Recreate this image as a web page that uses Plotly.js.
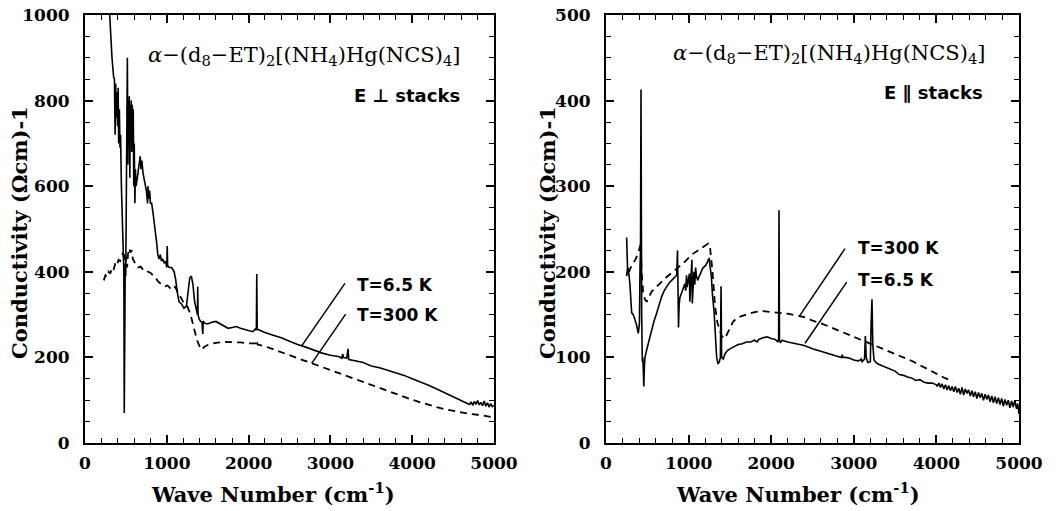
<!DOCTYPE html>
<html>
<head>
<meta charset="utf-8">
<script src="https://cdn.plot.ly/plotly-3.0.1.min.js"></script>
<style>html,body{margin:0;padding:0;background:#fff;}#chart{width:1059px;height:511px;}</style>
</head>
<body>
<div id="chart"></div>
<script>
// ---------- Left panel: E perpendicular to stacks ----------
const perpWave65 = [280,300,330,350,360,368,375,383,390,398,405,412,420,428,435,445,460,468,475,480,486,492,498,505,512,518,524,530,536,542,548,554,560,566,572,578,584,590,596,602,610,616,625,640,660,675,685,695,710,730,750,765,770,780,790,800,815,830,845,860,875,890,905,920,935,950,970,985,1000,1005,1010,1030,1060,1090,1110,1130,1150,1180,1210,1240,1260,1280,1300,1320,1340,1360,1375,1378,1382,1395,1410,1430,1440,1445,1460,1500,1550,1600,1650,1700,1750,1800,1850,1900,1950,2000,2050,2080,2095,2100,2105,2130,2200,2300,2400,2500,2600,2700,2800,2900,3000,3100,3140,3150,3160,3200,3215,3225,3300,3400,3500,3600,3700,3800,3900,4000,4100,4200,4300,4400,4500,4600,4650,4700,4720,4740,4760,4780,4800,4820,4840,4860,4880,4900,4920,4940,4960,4980,5000];
const perpCond65 = [1080,1000,900,855,850,720,840,760,820,740,830,700,780,690,720,600,470,430,400,70,380,420,390,600,780,900,650,800,700,810,620,790,720,800,680,790,700,780,600,700,560,640,600,620,650,670,640,660,630,610,590,560,600,570,590,560,560,540,520,490,470,440,430,440,425,430,420,425,410,460,415,410,410,400,380,350,330,325,315,320,360,385,390,370,330,310,300,365,300,290,285,282,255,285,280,278,282,284,278,272,268,270,272,268,265,262,260,266,264,395,266,264,258,252,246,238,230,224,217,210,205,202,198,208,200,198,220,195,192,188,180,176,170,164,158,150,143,135,126,117,108,100,94,90,96,88,97,90,99,89,95,87,98,86,94,84,92,85,88];

const perpWave300 = [230,250,270,290,310,330,350,370,390,410,430,450,465,475,485,495,505,515,525,540,555,570,585,600,620,650,680,710,740,770,800,830,860,890,920,950,980,1010,1040,1070,1100,1130,1160,1200,1250,1290,1330,1370,1410,1430,1460,1500,1550,1600,1700,1800,1900,2000,2060,2090,2100,2110,2200,2300,2400,2500,2600,2700,2800,2900,3000,3100,3200,3300,3400,3500,3600,3700,3800,3900,4000,4100,4200,4300,4400,4500,4600,4700,4800,4900,5000];
const perpCond300 = [380,392,388,400,396,410,405,420,415,428,425,440,445,430,440,420,435,410,440,455,445,450,430,425,415,410,412,405,406,400,398,392,388,378,372,368,366,368,362,358,365,355,345,330,320,300,270,240,222,218,225,229,232,234,236,236,235,233,232,233,240,230,226,219,212,205,198,191,184,177,170,163,156,149,142,135,128,121,114,108,101,95,89,84,79,75,71,68,66,63,60];

// ---------- Right panel: E parallel to stacks ----------
const parWave65 = [250,262,270,280,290,311,330,351,370,391,405,412,418,424,428,432,440,446,452,458,465,472,493,520,553,580,614,645,674,705,735,765,795,830,856,866,872,878,885,895,910,925,940,955,965,975,982,990,1000,1010,1015,1020,1030,1040,1045,1055,1065,1075,1085,1095,1110,1130,1150,1170,1190,1210,1230,1250,1262,1275,1290,1300,1310,1325,1340,1355,1370,1385,1393,1400,1420,1440,1470,1500,1550,1600,1650,1700,1750,1800,1830,1850,1900,1950,2000,2050,2080,2090,2095,2100,2110,2130,2200,2300,2400,2500,2600,2700,2800,2850,2860,2870,2900,2950,3000,3050,3080,3090,3100,3130,3140,3150,3170,3200,3210,3220,3230,3245,3270,3300,3350,3400,3450,3500,3550,3600,3650,3700,3750,3800,3850,3900,3950,4000,4010,4030,4050,4070,4090,4110,4130,4150,4170,4190,4210,4230,4250,4270,4290,4310,4330,4350,4370,4390,4410,4430,4450,4470,4490,4510,4530,4550,4570,4590,4610,4630,4650,4670,4690,4710,4730,4750,4770,4790,4810,4830,4850,4870,4890,4910,4930,4950,4970,4985,5000];
const parCond65 = [240,200,205,195,185,152,150,144,138,128,140,205,225,413,230,152,95,100,85,66,90,100,109,120,132,142,152,162,171,178,183,187,190,194,196,225,198,135,160,170,174,178,182,186,178,196,182,188,192,198,165,175,190,214,163,185,200,185,205,195,190,195,200,204,206,208,212,216,205,195,172,165,152,125,100,93,94,100,183,100,98,104,108,110,113,115,116,118,118,120,118,121,123,124,122,121,118,122,272,120,117,120,118,116,114,110,107,104,101,100,103,100,100,99,97,96,97,98,95,98,125,100,94,95,140,168,115,97,94,92,90,88,86,84,80,79,77,76,73,74,71,70,70,68,66,70,65,69,63,68,62,67,61,66,60,66,59,64,57,65,56,63,58,62,55,61,54,60,52,59,53,58,50,57,51,56,48,55,47,54,46,53,45,52,43,51,44,50,41,49,42,50,40,46,34];

const parWave300 = [250,265,280,300,330,360,390,410,420,432,450,472,493,553,634,735,835,936,1037,1138,1238,1259,1290,1320,1350,1400,1440,1480,1540,1600,1700,1800,1900,2000,2100,2200,2300,2400,2500,2600,2700,2800,2900,3000,3100,3200,3300,3400,3500,3600,3700,3800,3900,4000,4100,4200];
const parCond300 = [195,205,200,205,210,215,222,230,232,200,175,168,165,177,185,194,202,210,220,227,233,229,200,160,140,125,122,130,142,147,150,153,154,153,152,151,149,147,143,140,136,132,128,124,120,116,112,108,104,100,96,91,86,81,76,72];

// tick steps (major / minor) for each axis
const waveMax = 5000, waveMajor = 1000, waveMinor = 200;
const perpMax = 1000, perpMajor = 200, perpMinor = 50;
const parMax = 500, parMajor = 100, parMinor = 25;

const formulaText = '<i>α</i>−(d<sub>8</sub>−ET)<sub>2</sub>[(NH<sub>4</sub>)Hg(NCS)<sub>4</sub>]';
const xTitleText = 'Wave Number (cm<sup>-1</sup>)';
const yTitleText = 'Conductivity (Ωcm)-1';

const solidLine = {color:'#000', width:1.6};
const dashLine = {color:'#000', width:1.8, dash:'7px,5px'};

const traces = [
  {x: perpWave65, y: perpCond65, xaxis:'x', yaxis:'y', mode:'lines', line: solidLine, name:'T=6.5 K', showlegend:false},
  {x: perpWave300, y: perpCond300, xaxis:'x', yaxis:'y', mode:'lines', line: dashLine, name:'T=300 K', showlegend:false},
  {x: parWave65, y: parCond65, xaxis:'x2', yaxis:'y2', mode:'lines', line: solidLine, name:'T=6.5 K', showlegend:false},
  {x: parWave300, y: parCond300, xaxis:'x2', yaxis:'y2', mode:'lines', line: dashLine, name:'T=300 K', showlegend:false}
];

const tickFont = {family:'DejaVu Serif', size:17, color:'#000', weight:'bold'};
const titleFont = {family:'DejaVu Serif', size:21, color:'#000', weight:'bold'};

function xAxis(domain, anchor){
  return {
    domain: domain, anchor: anchor, range:[0, waveMax], tickmode:'linear', tick0:0, dtick: waveMajor,
    ticks:'inside', ticklen:8, tickwidth:1.6, tickcolor:'#000',
    minor:{tickmode:'linear', tick0:0, dtick: waveMinor, ticks:'inside', ticklen:5, tickwidth:1.3, tickcolor:'#000'},
    showline:true, linewidth:2, linecolor:'#000', mirror:'allticks',
    showgrid:false, zeroline:false, tickfont: tickFont, ticklabelstandoff:4
  };
}
function yAxis(maxV, major, minorStep, anchor){
  return {
    domain:[0,1], anchor: anchor, range:[0, maxV], tickmode:'linear', tick0:0, dtick: major,
    ticks:'inside', ticklen:8, tickwidth:1.6, tickcolor:'#000',
    minor:{tickmode:'linear', tick0:0, dtick: minorStep, ticks:'inside', ticklen:5, tickwidth:1.3, tickcolor:'#000'},
    showline:true, linewidth:2, linecolor:'#000', mirror:'allticks',
    showgrid:false, zeroline:false, tickfont: tickFont, ticklabelstandoff:10
  };
}

const labelFont = {family:'DejaVu Sans', size:17, color:'#000', weight:'bold'};
const stackFont = {family:'DejaVu Sans', size:18, color:'#000', weight:'bold'};
const formulaFont = {family:'DejaVu Serif', size:21, color:'#000'};

const pointerLine = {color:'#000', width:1.5};

const layout = {
  width:1059, height:511,
  margin:{l:85, r:40, t:15, b:68},
  paper_bgcolor:'#fff', plot_bgcolor:'#fff',
  showlegend:false,
  xaxis: xAxis([0, 0.4379], 'y'),
  yaxis: yAxis(perpMax, perpMajor, perpMinor, 'x'),
  xaxis2: xAxis([0.5578, 1], 'y2'),
  yaxis2: yAxis(parMax, parMajor, parMinor, 'x2'),
  annotations:[
    {xref:'paper', yref:'paper', x:0.2013, y:-0.117, xanchor:'center', yanchor:'middle', text: xTitleText, showarrow:false, font: titleFont},
    {xref:'paper', yref:'paper', x:0.7634, y:-0.117, xanchor:'center', yanchor:'middle', text: xTitleText, showarrow:false, font: titleFont},
    {xref:'paper', yref:'paper', x:-0.0696, y:0.493, xanchor:'center', yanchor:'middle', textangle:-90, text: yTitleText, showarrow:false, font: titleFont},
    {xref:'paper', yref:'paper', x:0.4957, y:0.493, xanchor:'center', yanchor:'middle', textangle:-90, text: yTitleText, showarrow:false, font: titleFont},
    {xref:'x', yref:'y', x:4609, y:905, xanchor:'right', yanchor:'middle', text: formulaText, showarrow:false, font: formulaFont},
    {xref:'x', yref:'y', x:4609, y:813, xanchor:'right', yanchor:'middle', text:'E ⊥ stacks', showarrow:false, font: stackFont},
    {xref:'x', yref:'y', x:3301, y:369, xanchor:'left', yanchor:'middle', text:'T=6.5 K', showarrow:false, font: labelFont},
    {xref:'x', yref:'y', x:3301, y:299, xanchor:'left', yanchor:'middle', text:'T=300 K', showarrow:false, font: labelFont},
    {xref:'x2', yref:'y2', x:4613, y:454, xanchor:'right', yanchor:'middle', text: formulaText, showarrow:false, font: formulaFont},
    {xref:'x2', yref:'y2', x:4588, y:410, xanchor:'right', yanchor:'middle', text:'E ∥ stacks', showarrow:false, font: stackFont},
    {xref:'x2', yref:'y2', x:3027, y:228, xanchor:'left', yanchor:'middle', text:'T=300 K', showarrow:false, font: labelFont},
    {xref:'x2', yref:'y2', x:3027, y:190, xanchor:'left', yanchor:'middle', text:'T=6.5 K', showarrow:false, font: labelFont}
  ],
  shapes:[
    {type:'line', xref:'x', yref:'y', x0:3178, y0:373, x1:2649, y1:227, line:pointerLine},
    {type:'line', xref:'x', yref:'y', x0:3187, y0:301, x1:2771, y1:186, line:pointerLine},
    {type:'line', xref:'x2', yref:'y2', x0:2893, y0:227, x1:2340, y1:148, line:pointerLine},
    {type:'line', xref:'x2', yref:'y2', x0:2914, y0:188, x1:2409, y1:116.5, line:pointerLine}
  ]
};

Plotly.newPlot('chart', traces, layout, {displayModeBar:false});
</script>
</body>
</html>
